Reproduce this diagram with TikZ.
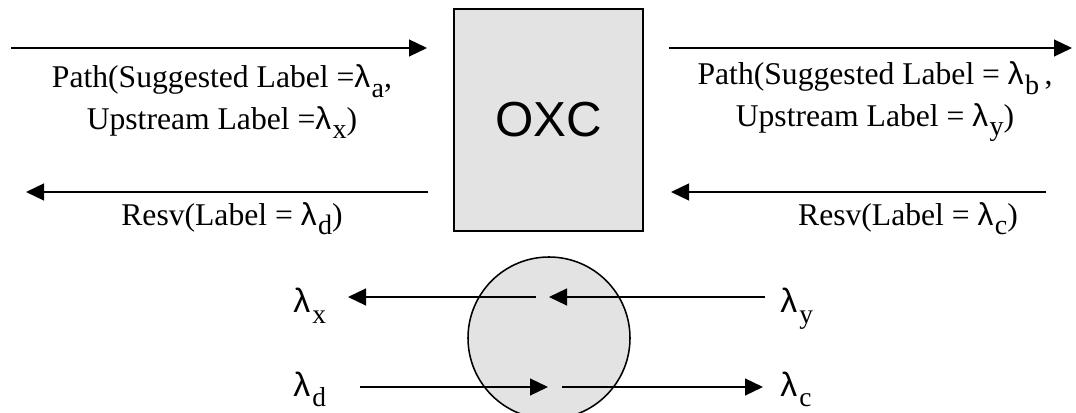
\documentclass[tikz,border=0pt]{standalone}
\usepackage{fontspec}
\setmainfont{Liberation Serif}
\setsansfont{Liberation Sans}
\usetikzlibrary{arrows.meta, positioning}

% wavelength with a subscript
\newcommand{\wl}[1]{{\sffamily λ}\kern1pt\raisebox{-0.3em}{\rmfamily\fontsize{20}{20}\selectfont #1}}
\newcommand{\wlport}[1]{{\sffamily λ}\kern1.5pt\raisebox{-0.3em}{\rmfamily\fontsize{19.5}{19.5}\selectfont #1}}

\begin{document}
\begin{tikzpicture}[
    oxc/.style={rectangle, draw, line width=1.1pt, fill=black!11, minimum width=4.72cm, minimum height=5.55cm, font=\sffamily\fontsize{35}{40}\selectfont},
    xconn/.style={circle, draw, line width=1.1pt, fill=black!11, minimum size=4.05cm, inner sep=0pt},
    msg/.style={align=center, inner sep=0pt, font=\fontsize{22.5}{29.5}\selectfont},
    port/.style={anchor=base west, inner sep=0pt, font=\fontsize{24}{28}\selectfont},
    arrow/.style={-{Triangle[length=0.45cm, width=0.42cm]}, line width=1.4pt}
]
    \useasboundingbox (0,0) rectangle (26.9,10.3);

    % Switch and its cross-connect
    \node[oxc] (oxc) at (13.71,7.3) {OXC};
    \node[xconn] (xc) at (13.725,1.85) {};

    % Signalling arrows
    \coordinate (p1s) at (0.275,9.1);   \coordinate (p1e) at (10.675,9.1);
    \coordinate (r1s) at (10.7,5.5);    \coordinate (r1e) at (0.65,5.5);
    \coordinate (p2s) at (16.725,9.1);  \coordinate (p2e) at (26.8,9.1);
    \coordinate (r2s) at (26.15,5.5);   \coordinate (r2e) at (16.775,5.5);
    \draw[arrow] (p1s) -- (p1e);
    \draw[arrow] (r1s) -- (r1e);
    \draw[arrow] (p2s) -- (p2e);
    \draw[arrow] (r2s) -- (r2e);

    \node[msg] (path1) at (5.55,7.76) {Path(Suggested Label =\wl{a},\\ Upstream Label =\wl{x})};
    \node[msg, anchor=base] (resv1) at (5.8,4.675) {Resv(Label = \wl{d})};
    \node[msg] (path2) at (21.875,7.76) {Path(Suggested Label = \wl{b}\,,\\ Upstream Label = \wl{y})};
    \node[msg, anchor=base] (resv2) at (22.7,4.675) {Resv(Label = \wl{c})};

    % Ports
    \node[port] (lx) at (7.325,2.475) {\wlport{x}};
    \node[port] (ld) at (7.325,0.4) {\wlport{d}};
    \node[port] (ly) at (19.5,2.475) {\wlport{y}};
    \node[port] (lc) at (19.5,0.4) {\wlport{c}};

    \coordinate (a1s) at (13.4,2.875);   \coordinate (a1e) at (8.7,2.875);
    \coordinate (a2s) at (19.125,2.875); \coordinate (a2e) at (13.725,2.875);
    \coordinate (a3s) at (9.0,0.625);    \coordinate (a3e) at (13.7,0.625);
    \coordinate (a4s) at (14.05,0.625);  \coordinate (a4e) at (19.075,0.625);
    \draw[arrow] (a1s) -- (a1e);
    \draw[arrow] (a2s) -- (a2e);
    \draw[arrow] (a3s) -- (a3e);
    \draw[arrow] (a4s) -- (a4e);
\end{tikzpicture}
\end{document}
